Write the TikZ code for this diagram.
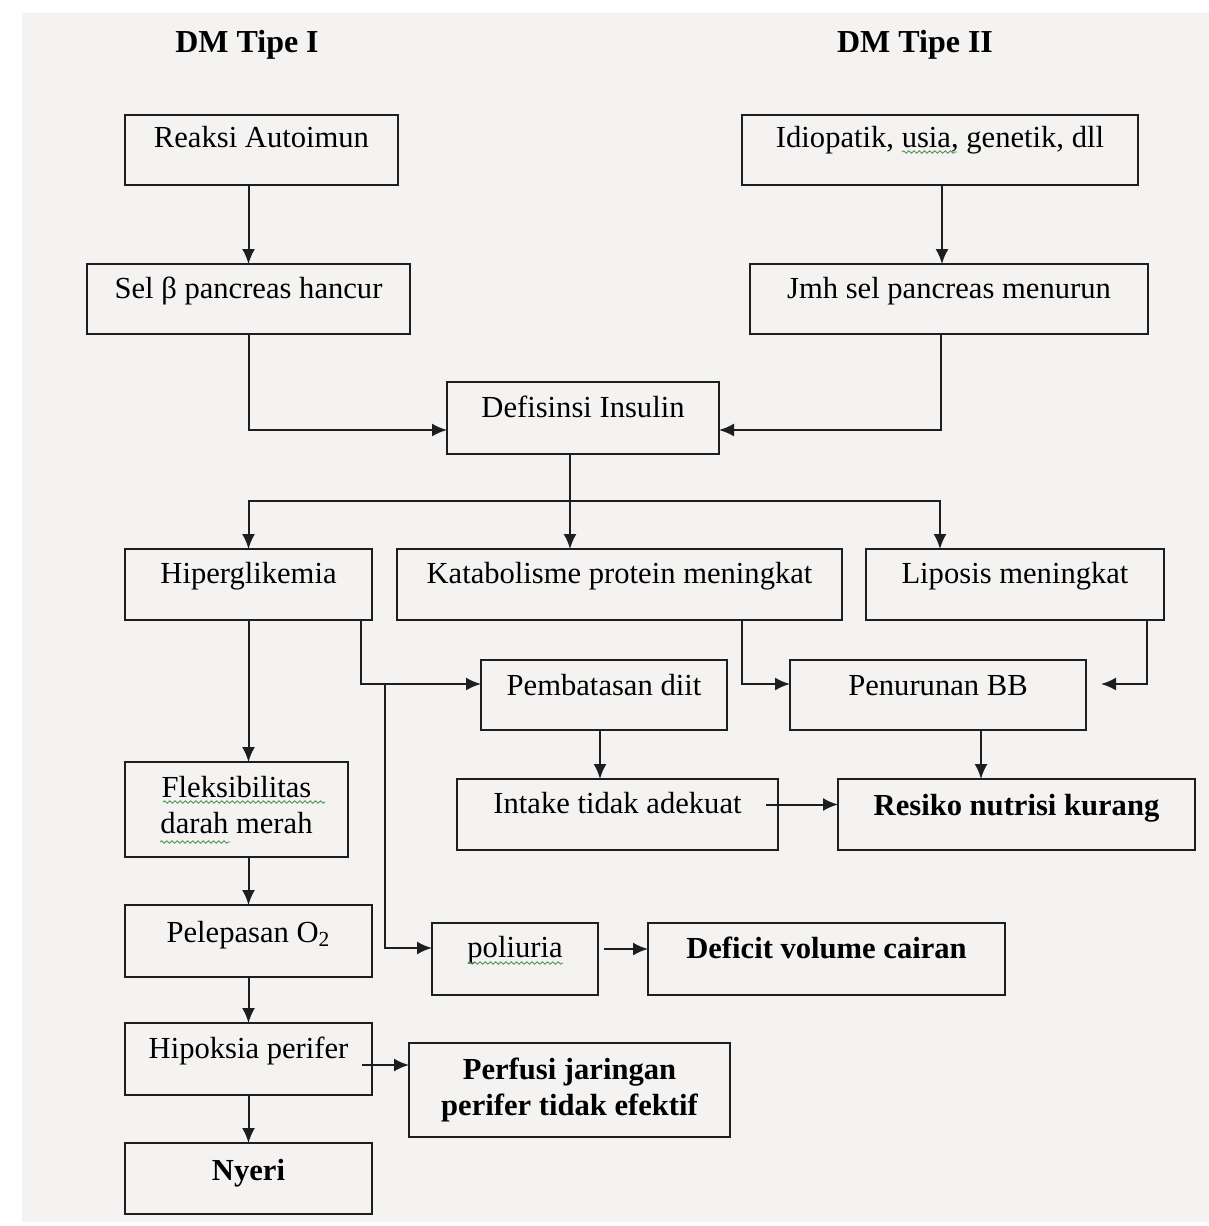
\documentclass[tikz,border=0pt]{standalone}
\usepackage{fontspec}
\setmainfont{Liberation Serif}
\usetikzlibrary{arrows.meta,decorations.pathmorphing,calc}
\definecolor{bgc}{RGB}{244,243,242}
\definecolor{spellc}{RGB}{80,150,80}
\definecolor{linec}{RGB}{30,30,30}
\tikzset{
 px/.style={x=0.5pt,y=-0.5pt},
 box/.style={draw=linec, line width=1.1pt, inner sep=0pt, outer sep=0pt, rectangle},
 txt/.style={inner sep=0pt, anchor=base, font=\fontsize{15.3pt}{18pt}\selectfont},
 btxt/.style={inner sep=0pt, anchor=base, font=\fontsize{15.3pt}{18pt}\selectfont\bfseries},
 ttl/.style={inner sep=0pt, anchor=base, font=\fontsize{16pt}{19pt}\selectfont\bfseries},
 arr/.style={draw=linec, line width=1pt, -{Latex[length=7.5pt,width=6.5pt]}},
 spell/.style={draw=spellc, line width=0.45pt, decorate, decoration={snake, amplitude=0.6pt, segment length=2.6pt}},
}
\newcommand\mybox[5]{\node[box, minimum width={(#4-#2)*0.5pt}, minimum height={(#5-#3)*0.5pt}] (#1) at ({(#2+#4)/2},{(#3+#5)/2}) {};}
\begin{document}
\begin{tikzpicture}[px]
\fill[white] (0,0) rectangle (1209,1226);
\fill[bgc] (22,13) rectangle (1209,1222);
\useasboundingbox (0,0) rectangle (1209,1226);

% titles
\node[ttl] (t1) at (247,53) {DM Tipe I};
\node[ttl] (t2) at (915,53) {DM Tipe II};

% boxes
\mybox{ra}{125}{115}{398}{185}
\mybox{id}{742}{115}{1138}{185}
\mybox{sb}{87}{264}{410}{334}
\mybox{jm}{750}{264}{1148}{334}
\mybox{di}{447}{382}{719}{454}
\mybox{hi}{125}{549}{372}{620}
\mybox{ka}{397}{549}{842}{620}
\mybox{li}{866}{549}{1164}{620}
\mybox{pb}{481}{660}{727}{730}
\mybox{pn}{790}{660}{1086}{730}
\mybox{fl}{125}{762}{348}{857}
\mybox{in}{457}{779}{778}{850}
\mybox{rs}{838}{779}{1195}{850}
\mybox{pl}{125}{905}{372}{977}
\mybox{po}{432}{923}{598}{995}
\mybox{df}{648}{923}{1005}{995}
\mybox{hp}{125}{1023}{372}{1095}
\mybox{pf}{409}{1043}{730}{1137}
\mybox{ny}{125}{1143}{372}{1214}

% texts
\node[txt] (ra-t) at (261.5,147) {Reaksi Autoimun};
\node[txt] (id-t) at (940,147) {Idiopatik, usia, genetik, dll};
\node[txt] (sb-t) at (248.5,298) {Sel β pancreas hancur};
\node[txt] (jm-t) at (949,298) {Jmh sel pancreas menurun};
\node[txt] (di-t) at (583,417) {Defisinsi Insulin};
\node[txt] (hi-t) at (248.5,583) {Hiperglikemia};
\node[txt] (ka-t) at (619.5,583) {Katabolisme protein meningkat};
\node[txt] (li-t) at (1015,583) {Liposis meningkat};
\node[txt] (pb-t) at (604,695) {Pembatasan diit};
\node[txt] (pn-t) at (938,695) {Penurunan BB};
\node[txt] (fl-t1) at (236.5,797) {Fleksibilitas};
\node[txt] (fl-t2) at (236.5,833) {darah merah};
\node[txt] (in-t) at (617.5,813) {Intake tidak adekuat};
\node[btxt] (rs-t) at (1016.5,815) {Resiko nutrisi kurang};
\node[txt] (pl-t) at (248.5,942) {Pelepasan O\textsubscript{2}};
\node[txt] (po-t) at (515,957) {poliuria};
\node[btxt] (df-t) at (826.5,958) {Deficit volume cairan};
\node[txt] (hp-t) at (248.5,1058) {Hipoksia perifer};
\node[btxt] (pf-t1) at (569.5,1079) {Perfusi jaringan};
\node[btxt] (pf-t2) at (569.5,1115) {perifer tidak efektif};
\node[btxt] (ny-t) at (248.5,1180) {Nyeri};

% spell-check underlines
\draw[spell] (902,152) -- (957,152);
\draw[spell] (163,802) -- (325,802);
\draw[spell] (160,842) -- (230,842);
\draw[spell] (468,963) -- (563,963);

% connectors
\draw[arr] (sb.north |- ra.south) -- (sb.north);
\draw[arr] ([xshift=1pt]id.south) -- ([xshift=1pt]id.south |- jm.north);
\draw[arr] (sb.south) |- ([yshift=-6pt]di.west);
\draw[arr] ([xshift=-4pt]jm.south) |- ([yshift=-6pt]di.east);

\coordinate (dsplit) at (570,501);
\coordinate (dR) at (940,501);
\draw[arr] (di.south -| dsplit) -- (dsplit |- ka.north);
\draw[arr] (dsplit) -| (hi.north);
\draw[arr] (dsplit) -- (dR) -- (dR |- li.north);

\draw[arr] ([xshift=-5.5pt]hi.south east) |- ([yshift=5.5pt]pb.west);
\coordinate (pj) at (385,684);
\draw[arr] (pj) |- ([yshift=5.5pt]po.west);
\draw[arr] (hi.south) -- (hi.south |- fl.north);

\draw[arr] ([xshift=-50pt]ka.south east) |- ([yshift=5.5pt]pn.west);
\draw[arr, shorten >=7.5pt] ([xshift=-8.5pt]li.south east) |- ([yshift=5.5pt]pn.east);
\draw[arr] ([xshift=-2pt]pb.south) -- ([xshift=-2pt]pb.south |- in.north);
\draw[arr] ([xshift=21.5pt]pn.south) -- ([xshift=21.5pt]pn.south |- rs.north);
\draw[arr] ([xshift=-6pt,yshift=5pt]in.east) -- ([yshift=5pt]in.east -| rs.west);

\draw[arr] (pl.north |- fl.south) -- (pl.north);
\draw[arr] (pl.south) -- (hp.north);
\draw[arr] ([xshift=-5pt,yshift=-3pt]hp.east) -- ([yshift=-3pt]hp.east -| pf.west);
\draw[arr] (hp.south) -- (ny.north);
\draw[arr] ([xshift=3pt,yshift=5pt]po.east) -- ([yshift=5pt]po.east -| df.west);
\end{tikzpicture}
\end{document}
